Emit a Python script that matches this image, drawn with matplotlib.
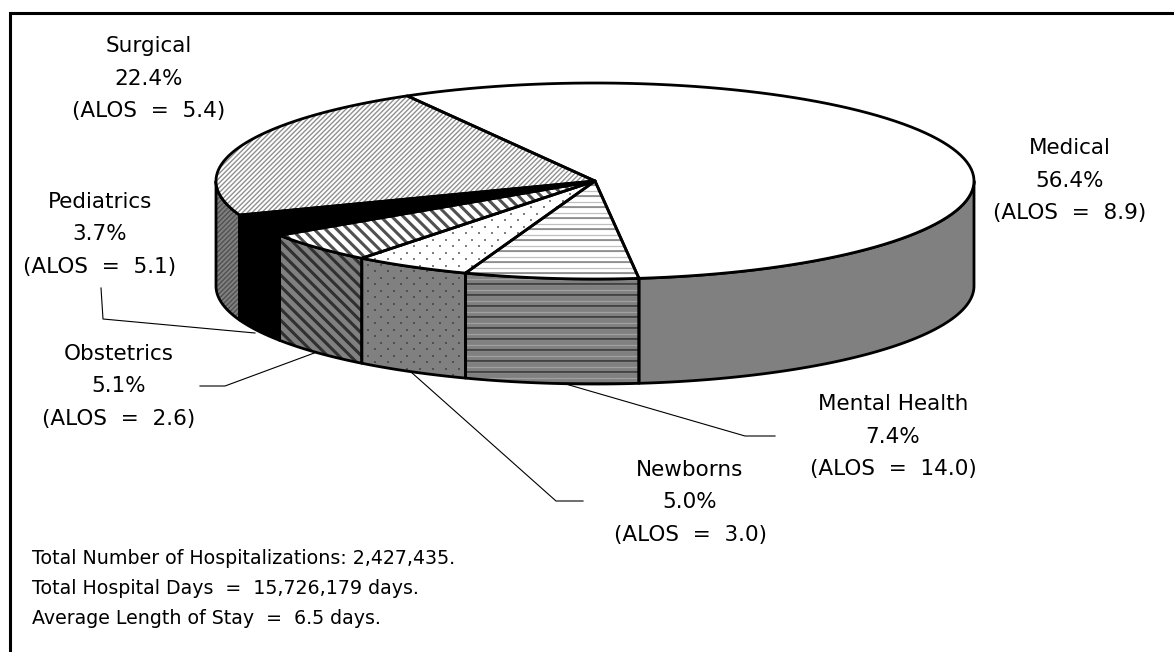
import numpy as np
import matplotlib
matplotlib.use("Agg")
import matplotlib.pyplot as plt
from matplotlib.patches import Polygon
from matplotlib.collections import LineCollection

plt.rcParams['font.family'] = ['DejaVu Sans']

# data
categories = ["Medical", "Mental Health", "Newborns", "Obstetrics", "Pediatrics", "Surgical"]
shares = [56.4, 7.4, 5.0, 5.1, 3.7, 22.4]
alos = ["8.9", "14.0", "3.0", "2.6", "5.1", "5.4"]
notes = ["Total Number of Hospitalizations: 2,427,435.",
         "Total Hospital Days  =  15,726,179 days.",
         "Average Length of Stay  =  6.5 days."]

# label centres, in figure pixels
label_x = [1070, 893, 690, 119, 100, 149]
label_y = [181, 437, 502, 386, 234, 79]

# leader lines, in figure pixels
leaders = {"Mental Health": ([775, 745, 545], [436, 436, 378]),
           "Newborns": ([583, 556, 411], [501, 501, 372]),
           "Obstetrics": ([200, 225, 317], [386, 386, 352]),
           "Pediatrics": ([101, 103, 255], [288, 319, 333])}

# pie geometry
cx, cy, rx, ry, depth = 595, 181, 379, 98, 105
start = 119.7
grey = "#808080"


def rim(a0, a1):
    t = np.radians(np.linspace(a0, a1, 100))
    return cx + rx * np.cos(t), cy - ry * np.sin(t)


def lines(ax, poly, angle, gap, color, lw):
    # hatch lines clipped to the polygon
    d = np.radians(angle)
    u = np.array([np.cos(d), np.sin(d)])
    n = np.array([-u[1], u[0]])
    offs = np.arange(-1300, 1300, gap)
    segs = [[n * o - u * 1400, n * o + u * 1400] for o in offs]
    lc = LineCollection(segs, colors=color, linewidths=lw, zorder=poly.get_zorder())
    ax.add_collection(lc)
    lc.set_clip_path(poly)


def dots(ax, poly, gap, color, size):
    x0, y0 = poly.get_xy().min(axis=0)
    x1, y1 = poly.get_xy().max(axis=0)
    xs, ys = [], []
    for i, y in enumerate(np.arange(y0 - gap, y1 + gap, gap)):
        for x in np.arange(x0 - gap + (i % 2) * gap, x1 + gap, 2 * gap):
            xs.append(x)
            ys.append(y)
    sc = ax.scatter(xs, ys, s=size, c=color, marker="s", linewidths=0, zorder=poly.get_zorder())
    sc.set_clip_path(poly)


def hatch(ax, poly, name, side):
    if name == "hlines":
        lines(ax, poly, 0, 5.5, "#a0a0a0" if side else "#c0c0c0", 0.9)
        lines(ax, poly, 0, 11, "#303030" if side else "#808080", 1.1)
    elif name == "dots":
        dots(ax, poly, 6.5, "#505050" if side else "#808080", 3.0)
    elif name == "back":
        lines(ax, poly, 45, 8, "#303030" if side else "#505050", 2.2)
    elif name == "fwd":
        lines(ax, poly, -45, 3.4, "#505050" if side else "#909090", 1.0)


fill_top = ["white", "white", "white", "white", "black", "white"]
fill_side = [grey, grey, grey, grey, "black", grey]
patterns = [None, "hlines", "dots", "back", None, "fwd"]

fig = plt.figure(figsize=(11.74, 6.52), dpi=100)
ax = fig.add_axes([0, 0, 1, 1])
ax.set_xlim(0, 1174)
ax.set_ylim(652, 0)
ax.axis("off")

# frame, open on the right and at the bottom
ax.plot([9.5, 9.5, 1174], [652, 12.5, 12.5], color="black", lw=2.2, solid_joinstyle="miter")

ang = start
edges = []
for share in shares:
    edges.append((ang, ang - share * 3.6))
    ang -= share * 3.6

# side walls first, only the front half of the rim shows
for (a0, a1), fs, pat in zip(edges, fill_side, patterns):
    a = min(a0, 0)
    b = max(a1, -180)
    x, y = rim(a, b)
    xy = np.column_stack([np.r_[x, x[::-1]], np.r_[y, y[::-1] + depth]])
    poly = Polygon(xy, closed=True, facecolor=fs, edgecolor="none", zorder=2)
    ax.add_patch(poly)
    hatch(ax, poly, pat, True)
    ax.add_patch(Polygon(xy, closed=True, facecolor="none", edgecolor="black", lw=2.0, zorder=3,
                         joinstyle="round"))

# top faces
for (a0, a1), ft, pat in zip(edges, fill_top, patterns):
    x, y = rim(a0, a1)
    xy = np.column_stack([np.r_[cx, x], np.r_[cy, y]])
    poly = Polygon(xy, closed=True, facecolor=ft, edgecolor="none", zorder=4)
    ax.add_patch(poly)
    hatch(ax, poly, pat, False)
    ax.add_patch(Polygon(xy, closed=True, facecolor="none", edgecolor="black", lw=2.0, zorder=5,
                         joinstyle="round"))

# leaders
for name in leaders:
    ax.plot(leaders[name][0], leaders[name][1], color="black", lw=0.8, zorder=1)

# labels
for name, share, los, lx, ly in zip(categories, shares, alos, label_x, label_y):
    ax.text(lx, ly - 32.5, name, ha="center", va="center", fontsize=15.5)
    ax.text(lx, ly, "%.1f%%" % share, ha="center", va="center", fontsize=15.5)
    ax.text(lx, ly + 32.5, "(ALOS  =  %s)" % los, ha="center", va="center", fontsize=15.5)

for i, note in enumerate(notes):
    ax.text(32, 559 + i * 29.5, note, ha="left", va="center", fontsize=13.7)

fig.savefig("out.png", dpi=100)
